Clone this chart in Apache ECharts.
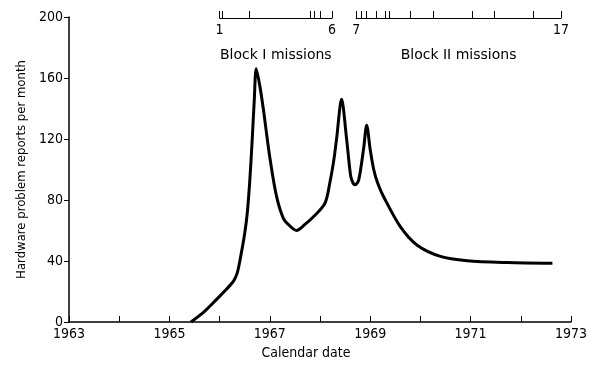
<!DOCTYPE html>
<html>
<head>
<meta charset="utf-8">
<style>
  html, body { margin: 0; padding: 0; background: #fff; }
  #chart { width: 600px; height: 367px; }
</style>
<script src="https://cdn.jsdelivr.net/npm/echarts@6/dist/echarts.min.js"></script>
</head>
<body>
<div id="chart"></div>
<script>
// curve: [year, reports per month]
const reports = [
  [1965.43, 0], [1965.7, 7], [1965.93, 14.5], [1966.15, 22], [1966.28, 27], [1966.35, 32],
  [1966.42, 43], [1966.5, 58], [1966.55, 71], [1966.6, 92], [1966.65, 120], [1966.69, 145],
  [1966.73, 166], [1966.8, 155], [1966.87, 140], [1966.93, 125], [1967.0, 108],
  [1967.13, 83], [1967.27, 68], [1967.4, 63], [1967.53, 60], [1967.7, 64], [1967.87, 69],
  [1968.1, 78], [1968.2, 92], [1968.27, 105], [1968.33, 120], [1968.43, 146],
  [1968.53, 120], [1968.61, 96], [1968.66, 91], [1968.7, 90], [1968.77, 93],
  [1968.87, 114], [1968.93, 129], [1969.0, 113], [1969.07, 100], [1969.15, 91],
  [1969.27, 82], [1969.6, 62.5], [1969.93, 50.5], [1970.4, 43], [1970.93, 40.2],
  [1971.73, 39], [1972.63, 38.5]
];

// mission marks on the top scales (years)
const blockOneTicks = [1966.0, 1966.06, 1966.6, 1967.81, 1967.88, 1968.01, 1968.24];
const blockOneEnds = ['1', '6'];
const blockTwoTicks = [1968.72, 1968.83, 1968.93, 1969.13, 1969.30, 1969.37, 1969.80,
  1970.25, 1971.03, 1971.47, 1972.25, 1972.80];
const blockTwoEnds = ['7', '17'];

const yearMin = 1963, yearMax = 1973;
const font = '"DejaVu Sans Condensed", "DejaVu Sans", sans-serif';
const nameFont = '"DejaVu Sans", sans-serif';

// main plot area in pixels
const plotLeft = 69, plotRight = 571;
const px = y => plotLeft + (y - yearMin) / (yearMax - yearMin) * (plotRight - plotLeft);

function missionGrid(ticks) {
  const a = ticks[0], b = ticks[ticks.length - 1];
  return { left: px(a), right: 600 - px(b), top: 0, height: 18 };
}

function missionAxis(idx, ticks, ends, name) {
  const a = ticks[0], b = ticks[ticks.length - 1];
  return {
    type: 'value', gridIndex: idx, min: a, max: b,
    name: name, nameLocation: 'middle', nameGap: 30,
    nameTextStyle: { color: '#000', fontSize: 14, fontFamily: nameFont },
    axisLine: { show: true, lineStyle: { color: '#000', width: 1 } },
    axisTick: { show: true, inside: true, length: 7, customValues: ticks, lineStyle: { color: '#000' } },
    axisLabel: {
      show: true, color: '#000', fontSize: 14, fontFamily: font, margin: 5,
      customValues: [a, b],
      formatter: v => (Math.abs(v - a) < 1e-6 ? ends[0] : ends[1])
    },
    splitLine: { show: false }
  };
}

const chart = echarts.init(document.getElementById('chart'));
chart.setOption({
  animation: false,
  backgroundColor: '#fff',
  grid: [
    { left: plotLeft, right: 600 - plotRight, top: 17, bottom: 45 },
    missionGrid(blockOneTicks),
    missionGrid(blockTwoTicks)
  ],
  xAxis: [
    {
      type: 'value', gridIndex: 0, min: yearMin, max: yearMax, interval: 1,
      name: 'Calendar date', nameLocation: 'middle', nameGap: 24,
      nameTextStyle: { color: '#000', fontSize: 14, fontFamily: font, padding: [0, 28, 0, 0] },
      axisLine: { lineStyle: { color: '#000', width: 1.5 } },
      axisTick: { inside: true, length: 6, lineStyle: { color: '#000' } },
      axisLabel: {
        color: '#000', fontSize: 14, fontFamily: font, margin: 5,
        formatter: v => (Math.round(v - yearMin) % 2 === 0 ? String(v) : '')
      },
      splitLine: { show: false }
    },
    missionAxis(1, blockOneTicks, blockOneEnds, 'Block I missions'),
    missionAxis(2, blockTwoTicks, blockTwoEnds, 'Block II missions')
  ],
  yAxis: [
    {
      type: 'value', gridIndex: 0, min: 0, max: 200, interval: 40,
      name: 'Hardware problem reports per month', nameLocation: 'middle', nameGap: 29,
      nameTextStyle: { color: '#000', fontSize: 13, fontFamily: font },
      axisLine: { show: true, lineStyle: { color: '#000', width: 1.5 } },
      axisTick: { show: true, inside: false, length: 5, lineStyle: { color: '#000' } },
      axisLabel: { color: '#000', fontSize: 14, fontFamily: font, margin: 6 },
      splitLine: { show: false }
    },
    { type: 'value', gridIndex: 1, show: false },
    { type: 'value', gridIndex: 2, show: false }
  ],
  series: [{
    type: 'line', xAxisIndex: 0, yAxisIndex: 0,
    data: reports, showSymbol: false, smooth: 0.3,
    lineStyle: { color: '#000', width: 3 }
  }]
});
</script>
</body>
</html>
